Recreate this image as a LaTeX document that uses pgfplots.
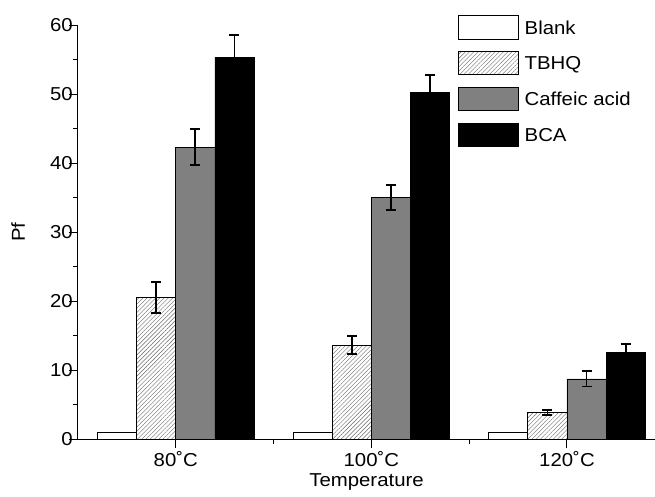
\documentclass[border=0pt]{standalone}
\usepackage{fontspec}
\setmainfont{Liberation Sans}[FakeStretch=1.09]
\usepackage{pgfplots}
\pgfplotsset{compat=1.18}
\usetikzlibrary{patterns.meta}
\newcommand{\chartfont}{\fontsize{18.7}{22}\selectfont}
\begin{document}
\begin{tikzpicture}
\begin{axis}[
  scale only axis, width=577pt, height=414pt,
  xmin=-0.5, xmax=2.45, ymin=0, ymax=60,
  axis x line*=bottom, axis y line*=left,
  axis line style={line width=1pt, -},
  ytick={0,10,...,60}, minor ytick={5,15,...,55},
  xtick={0,1,2}, xticklabels={80˚C,100˚C,120˚C}, minor xtick={0.5,1.5},
  tick align=outside, major tick length=9pt, minor tick length=5pt,
  tick style={line width=1pt, black},
  font=\chartfont,
  ticklabel style={font=\chartfont},
  yticklabel style={inner xsep=0pt, xshift=4pt},
  /pgf/number format/assume math mode=true,
  every axis y label/.style={at={(axis description cs:-0.0919,0.5)}, rotate=90, anchor=base},
  every axis x label/.style={at={(axis description cs:0.5,-0.1152)}, anchor=base},
  ylabel={Pf}, xlabel={Temperature},
  legend cell align=left,
  legend style={draw=none, fill=none, at={(axis description cs:0.658,1.024)}, anchor=north west,
    inner sep=0pt, row sep=11.7pt,
    nodes={inner xsep=6pt, inner ysep=0pt, text height=13.4pt, text depth=0pt},
    font=\chartfont},
  legend image code/.code={\draw[#1,line width=0.8pt] (0pt,-11.65pt) rectangle (60pt,11.65pt);},
]
\addplot[ybar, bar width=0.2, bar shift=0, fill=white, draw=black, line width=0.8pt]
  coordinates {(-0.3,1) (0.7,1) (1.7,1)};
\addlegendentry{Blank}
\addplot[ybar, bar width=0.2, bar shift=0, draw=black, line width=0.8pt,
  pattern={Lines[angle=45,distance=3pt,line width=0.4pt]}, pattern color=black!60,
  error bars/.cd, y dir=both, y explicit,
  error bar style={line width=1.8pt, black, solid},
  error mark options={rotate=90, mark size=5pt, line width=1.8pt, black}]
  table[x=x, y=y, y error=e] {
x y e
-0.1 20.5 2.2
0.9 13.6 1.3
1.9 3.8 0.35
};
\addlegendentry{TBHQ}
\addplot[ybar, bar width=0.2, bar shift=0, fill=black!50, draw=black, line width=0.8pt,
  error bars/.cd, y dir=both, y explicit,
  error bar style={line width=1.8pt, black, solid},
  error mark options={rotate=90, mark size=5pt, line width=1.8pt, black}]
  table[x=x, y=y, y error=e] {
x y e
0.1 42.3 2.6
1.1 35.0 1.85
2.1 8.7 1.1
};
\addlegendentry{Caffeic acid}
\addplot[ybar, bar width=0.2, bar shift=0, fill=black, draw=black, line width=0.8pt,
  error bars/.cd, y dir=both, y explicit,
  error bar style={line width=1.8pt, black, solid},
  error mark options={rotate=90, mark size=5pt, line width=1.8pt, black}]
  table[x=x, y=y, y error=e] {
x y e
0.3 55.3 3.3
1.3 50.2 2.6
2.3 12.5 1.3
};
\addlegendentry{BCA}
\end{axis}
\pgfresetboundingbox
\path[use as bounding box] (-78pt,-57pt) rectangle (577pt,439pt);
\end{tikzpicture}
\end{document}
